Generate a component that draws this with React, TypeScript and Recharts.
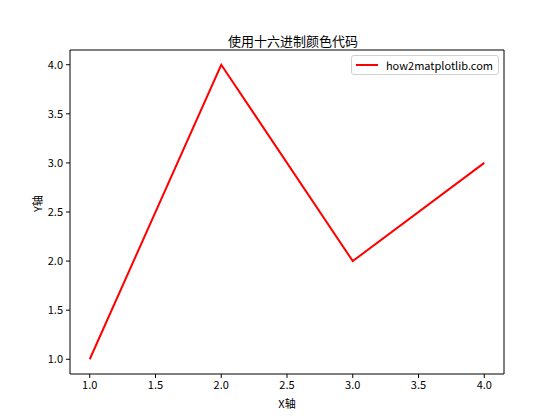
import React from 'react';
import { LineChart, Line, XAxis, YAxis, ReferenceArea } from 'recharts';

const xValues = [1, 2, 3, 4];
const yValues = [1, 4, 2, 3];
const xTicks = [1, 1.5, 2, 2.5, 3, 3.5, 4];
const yTicks = [1, 1.5, 2, 2.5, 3, 3.5, 4];
const seriesName = 'how2matplotlib.com';

const data = xValues.map((x, i) => ({ x, y: yValues[i] }));

const FONT = '"Noto Sans CJK SC", "Noto Sans", sans-serif';
const LINE_COLOR = '#FF0000';

// legend drawn as a plain box in the upper-right of the axes
const LegendBox = () => (
  <div
    style={{
      position: 'absolute',
      top: 55,
      right: 61,
      display: 'flex',
      alignItems: 'center',
      border: '1px solid #d0d0d0',
      borderRadius: 3,
      background: 'rgba(255,255,255,0.8)',
      padding: '1px 5px 1px 4px',
      fontFamily: FONT,
      fontSize: 11,
      color: '#000',
    }}
  >
    <span style={{ display: 'inline-block', width: 22, height: 2, background: LINE_COLOR, marginRight: 8 }} />
    <span>{seriesName}</span>
  </div>
);

export default function App() {
  return (
    <div style={{ position: 'absolute', left: 0, top: 0, width: 560, height: 420, background: '#fff' }}>
      <LineChart width={560} height={420} data={data} margin={{ top: 50, right: 56, left: 0, bottom: 0 }}>
        <text x={293} y={46} textAnchor="middle" fontFamily={FONT} fontSize={13} fill="#000">
          使用十六进制颜色代码
        </text>
        <XAxis
          dataKey="x"
          type="number"
          domain={[0.85, 4.15]}
          ticks={xTicks}
          allowDataOverflow
          height={46}
          tickFormatter={(v: number) => v.toFixed(1)}
          tick={{ fontFamily: FONT, fontSize: 11, fill: '#000' }}
          tickSize={4}
          tickMargin={3}
          axisLine={false}
          tickLine={{ stroke: '#000' }}
          label={{ value: 'X轴', position: 'insideBottom', offset: 12, fontFamily: FONT, fontSize: 11, fill: '#000' }}
        />
        <YAxis
          dataKey="y"
          type="number"
          domain={[0.85, 4.15]}
          ticks={yTicks}
          allowDataOverflow
          width={70}
          tickFormatter={(v: number) => v.toFixed(1)}
          tick={{ fontFamily: FONT, fontSize: 11, fill: '#000' }}
          tickSize={4}
          tickMargin={3}
          axisLine={false}
          tickLine={{ stroke: '#000' }}
          label={{ value: 'Y轴', angle: -90, position: 'insideLeft', offset: 38, fontFamily: FONT, fontSize: 11, fill: '#000' }}
        />
        <ReferenceArea x1={0.85} x2={4.15} y1={0.85} y2={4.15} fill="none" stroke="#000" strokeWidth={1} />
        <Line
          dataKey="y"
          name={seriesName}
          stroke={LINE_COLOR}
          strokeWidth={2}
          dot={false}
          isAnimationActive={false}
        />
      </LineChart>
      <LegendBox />
    </div>
  );
}
